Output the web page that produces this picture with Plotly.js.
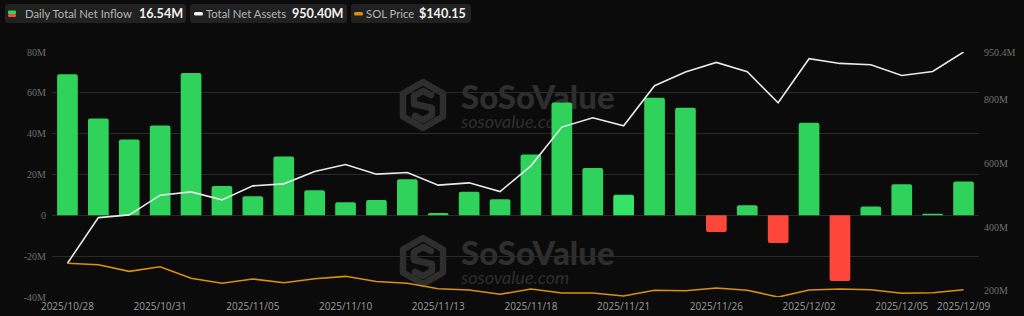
<!DOCTYPE html>
<html><head><meta charset="utf-8">
<script src="https://cdn.plot.ly/plotly-3.0.1.min.js"></script>
<style>html,body{margin:0;padding:0;background:#0b0b0b;}#chart{width:1024px;height:316px;}</style>
</head><body><div id="chart"></div>
<script>
const dates = ['2025/10/28','2025/10/29','2025/10/30','2025/10/31','2025/11/03','2025/11/04','2025/11/05','2025/11/06','2025/11/07','2025/11/10','2025/11/11','2025/11/12','2025/11/13','2025/11/14','2025/11/17','2025/11/18','2025/11/19','2025/11/20','2025/11/21','2025/11/24','2025/11/25','2025/11/26','2025/11/28','2025/12/01','2025/12/02','2025/12/03','2025/12/04','2025/12/05','2025/12/08','2025/12/09'];
const netInflow = [69.1,47.4,37.1,44.0,69.7,14.4,9.3,28.8,12.3,6.4,7.5,17.7,1.1,11.6,7.9,29.8,55.3,23.2,10.1,57.6,52.7,-8.2,4.9,-13.6,45.3,-32.2,4.3,15.2,0.8,16.54];
const netAssets = [286,429.7,438.2,500.2,510.6,485.4,529.5,535.8,574.5,596.6,566.3,571.4,531.7,539.0,511.6,592.5,714.3,743.6,718.4,844.3,887.4,917.7,888.4,790.8,929.3,914.5,910.4,876.7,889.3,950.4];
const solPrice = [195.1,192.2,178.4,188.0,163.9,153.5,162.4,154.7,163.0,168.0,157.2,153.5,142.2,139.5,130.6,141.6,133.3,133.3,127.0,138.9,138.1,143.7,138.9,125.0,139.5,141.6,140.2,132.7,133.9,140.15];
const tickDates = ['2025/10/28','2025/10/31','2025/11/05','2025/11/10','2025/11/13','2025/11/18','2025/11/21','2025/11/26','2025/12/02','2025/12/05','2025/12/09'];
const leftTickVals = [-40,-20,0,20,40,60,80];
const leftTickText = ['-40M','-20M','0','20M','40M','60M','80M'];
const rightTickVals = [200,400,600,800,950.4];
const rightTickText = ['200M','400M','600M','800M','950.4M'];
const legendLabels = ['Daily Total Net Inflow','Total Net Assets','SOL Price'];
const legendValues = ['16.54M','950.40M','$140.15'];

const GREEN = '#2fd25a', GREEN_HI = '#33e466', RED = '#ff463a';
const barColors = netInflow.map((v,i) => v < 0 ? RED : (i === 18 ? GREEN_HI : GREEN));

// plot area in pixels
const PL = 52, PR = 979, PT = 52, PB = 297;
const px2x = p => (p - PL) / (PR - PL);
const px2y = p => (PB - p) / (PB - PT);

function roundRect(x0, y0, x1, y1, r) {
  const X = px2x, Y = px2y;
  return `M${X(x0+r)},${Y(y0)} L${X(x1-r)},${Y(y0)} Q${X(x1)},${Y(y0)} ${X(x1)},${Y(y0+r)} ` +
    `L${X(x1)},${Y(y1-r)} Q${X(x1)},${Y(y1)} ${X(x1-r)},${Y(y1)} L${X(x0+r)},${Y(y1)} ` +
    `Q${X(x0)},${Y(y1)} ${X(x0)},${Y(y1-r)} L${X(x0)},${Y(y0+r)} Q${X(x0)},${Y(y0)} ${X(x0+r)},${Y(y0)} Z`;
}

const boxes = [[5,186],[190,347],[351,471]];
const shapes = boxes.map(b => ({type:'path', xref:'paper', yref:'paper', path: roundRect(b[0],4,b[1],23,3), fillcolor:'#212121', line:{width:0}}));
shapes.push({type:'path', xref:'paper', yref:'paper', path: roundRect(8,10.5,16,14,1), fillcolor:GREEN, line:{width:0}});
shapes.push({type:'path', xref:'paper', yref:'paper', path: roundRect(8,14,16,17,1), fillcolor:RED, line:{width:0}});
shapes.push({type:'path', xref:'paper', yref:'paper', path: roundRect(194,12,203,15.5,1.5), fillcolor:'#f0f0f0', line:{width:0}});
shapes.push({type:'path', xref:'paper', yref:'paper', path: roundRect(354,12,363,15.5,1.5), fillcolor:'#d9920f', line:{width:0}});

const labelX = [25, 206, 366];
const valueX = [139, 292, 419];
const annotations = [];
for (let i = 0; i < 3; i++) {
  annotations.push({xref:'paper', yref:'paper', x:px2x(labelX[i]-2), y:px2y(14), xanchor:'left', yanchor:'middle', showarrow:false,
    text: legendLabels[i], font:{family:'Lato', size:11.3, color:'#b4b4b4'}});
  annotations.push({xref:'paper', yref:'paper', x:px2x(valueX[i]-2), y:px2y(14), xanchor:'left', yanchor:'middle', showarrow:false,
    text: '<b>' + legendValues[i] + '</b>', font:{family:'Lato', size:12.6, color:'#f2f2f2'}});
}

const wmColor = '#2e2e2e';
const wmSvg = `<svg xmlns="http://www.w3.org/2000/svg" width="232" height="56" viewBox="0 0 232 56">` +
  `<g fill="none" stroke="${wmColor}" stroke-width="6.5" stroke-linejoin="round" stroke-linecap="round">` +
  `<path d="M25 5 L45 16.5 L45 39.5 L25 51 L5 39.5 L5 16.5 Z"/>` +
  `<path d="M33 18 L25 14 L16 19 L16 27 L34 31 L34 38 L25 43 L17 39"/></g>` +
  `<text x="63" y="32" font-family="Lato, sans-serif" font-weight="900" font-size="33" fill="${wmColor}">SoSoValue</text>` +
  `<text x="63" y="51" font-family="Lato, sans-serif" font-style="italic" font-size="18" fill="${wmColor}">sosovalue.com</text></svg>`;
const wmSrc = 'data:image/svg+xml;charset=utf-8,' + encodeURIComponent(wmSvg);
const images = [77, 233].map(top => ({source: wmSrc, xref:'paper', yref:'paper', x: px2x(398), y: px2y(top),
  sizex: 232/(PR-PL), sizey: 56/(PB-PT), xanchor:'left', yanchor:'top', sizing:'stretch', layer:'below'}));

const traces = [
  {type:'bar', x:dates, y:netInflow, yaxis:'y', marker:{color:barColors, cornerradius:2, line:{width:0}}, hoverinfo:'skip'},
  {type:'scatter', mode:'lines', x:dates, y:solPrice, yaxis:'y3', line:{color:'#d9920f', width:1.6}, hoverinfo:'skip'},
  {type:'scatter', mode:'lines', x:dates, y:netAssets, yaxis:'y2', line:{color:'#e8e8e8', width:1.6}, hoverinfo:'skip'}
];

const tickFontSerif = {family:'Liberation Serif', size:10, color:'#6f6f6f'};
const layout = {
  width:1024, height:316,
  margin:{l:PL, r:1024-PR, t:PT, b:316-PB},
  paper_bgcolor:'#0b0b0b', plot_bgcolor:'#0b0b0b',
  showlegend:false, bargap:0.33,
  xaxis:{type:'category', range:[-0.5, dates.length-0.5], tickvals:tickDates, ticktext:tickDates,
    tickfont:{family:'Open Sans', size:10, color:'#9c9c9c'}, showgrid:false, showline:false, ticks:'', zeroline:false, fixedrange:true, ticklabelstandoff:2},
  yaxis:{range:[-40,80], tickvals:leftTickVals, ticktext:leftTickText, tickfont:tickFontSerif,
    gridcolor:'#2a2a2a', gridwidth:1, zeroline:false, showline:false, ticks:'', fixedrange:true, ticklabelstandoff:5},
  yaxis2:{overlaying:'y', side:'right', range:[180,950.4], tickvals:rightTickVals, ticktext:rightTickText, tickfont:tickFontSerif,
    showgrid:false, zeroline:false, showline:false, ticks:'', fixedrange:true, ticklabelstandoff:4},
  yaxis3:{overlaying:'y', range:[125,634.6], visible:false, fixedrange:true},
  shapes: shapes, annotations: annotations, images: images
};
Plotly.newPlot('chart', traces, layout, {staticPlot:true, displayModeBar:false});
</script></body></html>
